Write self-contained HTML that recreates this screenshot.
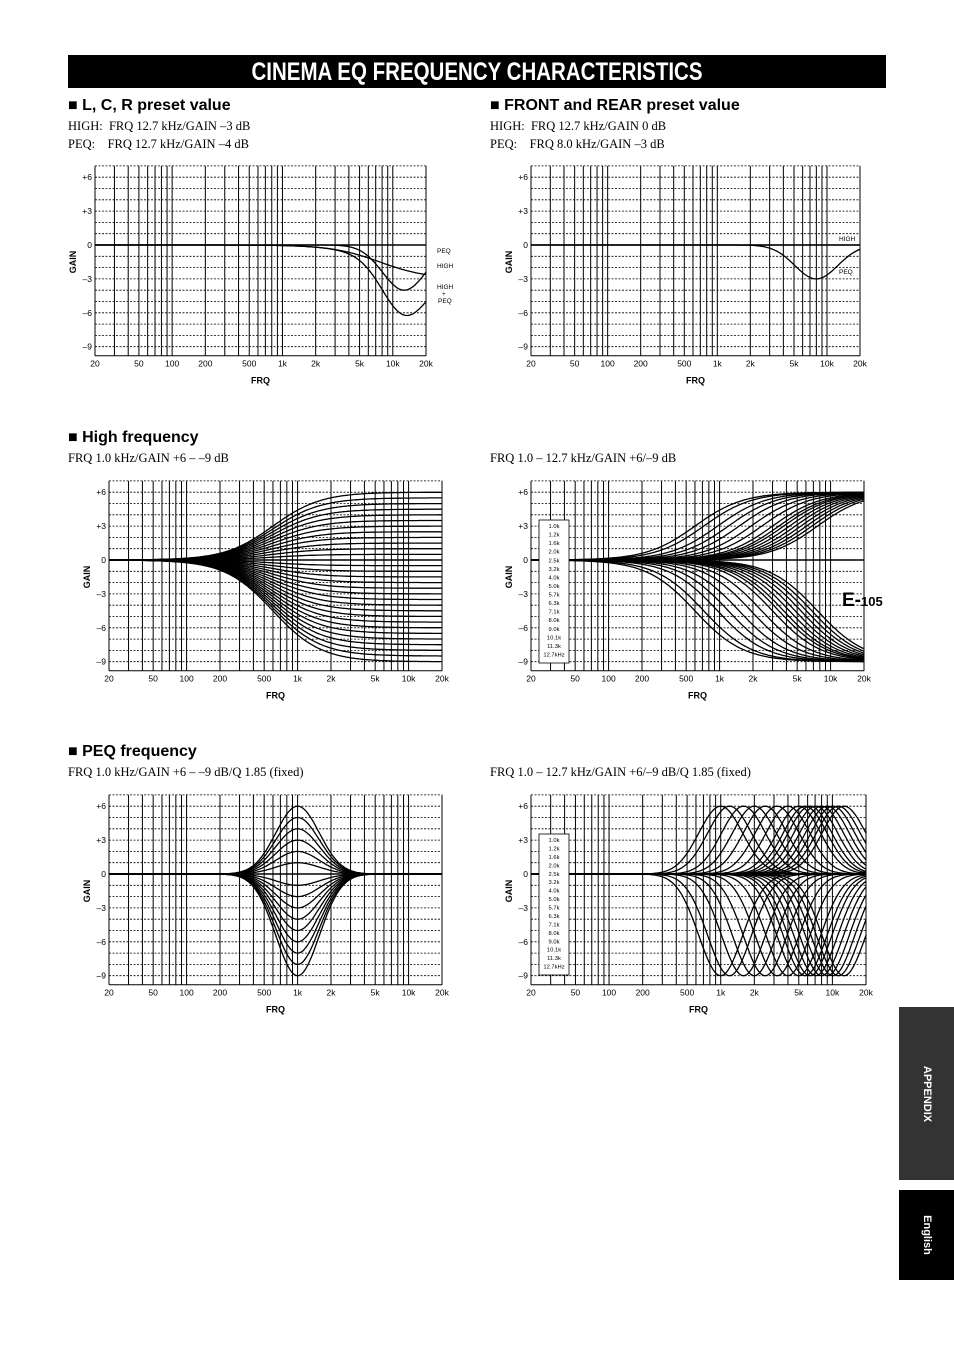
<!DOCTYPE html>
<html><head><meta charset="utf-8">
<style>
body{margin:0;background:#fff;}
#page{position:relative;width:954px;height:1351px;background:#fff;overflow:hidden;font-family:"Liberation Sans",sans-serif;}
.title{position:absolute;left:68px;top:55px;width:818px;height:33px;background:#000;color:#fff;font-weight:bold;font-size:25px;text-align:center;line-height:34px;transform-origin:center;letter-spacing:0px;}
.title span{display:inline-block;transform:scaleX(0.82);}
.h{position:absolute;font-weight:bold;font-size:16px;}
.s{position:absolute;font-family:"Liberation Serif",serif;font-size:12.5px;white-space:pre;}
.tab{position:absolute;left:899px;width:55px;background:#333;}
.tab span{position:absolute;left:50%;top:50%;color:#fff;font-weight:bold;font-size:11px;transform:translate(-50%,-50%) rotate(90deg);white-space:nowrap;}
svg{position:absolute;left:0;top:0;}
</style></head><body>
<div id="page">
<div class="title"><span>CINEMA EQ FREQUENCY CHARACTERISTICS</span></div>
<div class="h" style="left:68px;top:97px">■ L, C, R preset value</div>
<div class="s" style="left:68px;top:119px">HIGH:  FRQ 12.7 kHz/GAIN –3 dB</div>
<div class="s" style="left:68px;top:137px">PEQ:    FRQ 12.7 kHz/GAIN –4 dB</div>
<div class="h" style="left:490px;top:97px">■ FRONT and REAR preset value</div>
<div class="s" style="left:490px;top:119px">HIGH:  FRQ 12.7 kHz/GAIN 0 dB</div>
<div class="s" style="left:490px;top:137px">PEQ:    FRQ 8.0 kHz/GAIN –3 dB</div>
<div class="h" style="left:68px;top:429px">■ High frequency</div>
<div class="s" style="left:68px;top:451px">FRQ 1.0 kHz/GAIN +6 – –9 dB</div>
<div class="s" style="left:490px;top:451px">FRQ 1.0 – 12.7 kHz/GAIN +6/–9 dB</div>
<div class="h" style="left:68px;top:743px">■ PEQ frequency</div>
<div class="s" style="left:68px;top:765px">FRQ 1.0 kHz/GAIN +6 – –9 dB/Q 1.85 (fixed)</div>
<div class="s" style="left:490px;top:765px">FRQ 1.0 – 12.7 kHz/GAIN +6/–9 dB/Q 1.85 (fixed)</div>
<div class="tab" style="top:1007px;height:173px"><span>APPENDIX</span></div>
<div class="tab" style="top:1190px;height:90px;background:#000"><span>English</span></div>
<div style="position:absolute;left:842px;top:590px;font-weight:bold;font-size:19px">E-<span style="font-size:13px">105</span></div>
<svg id="svg" width="954" height="1351"></svg>
</div>
<script>
const freqList=[1000,1200,1600,2000,2500,3200,4000,5000,5700,6300,7100,8000,9000,10100,11300,12700];
const freqLabels=["1.0k","1.2k","1.6k","2.0k","2.5k","3.2k","4.0k","5.0k","5.7k","6.3k","7.1k","8.0k","9.0k","10.1k","11.3k","12.7kHz"];
const highGains=[6,5.5,5,4.5,4,3.5,3,2.5,2,1.5,1,0.5,-0.5,-1,-1.5,-2,-2.5,-3,-3.5,-4,-4.5,-5,-5.5,-6,-6.5,-7,-7.5,-8,-8.5,-9];
const peqGains=[6,5,4,3,2,1,-1,-2,-3,-4,-5,-6,-7,-8,-9];
const extremeGains=[6,-9];
const yTicks=[6,3,0,-3,-6,-9];
const yTickLabels=["+6","+3","0","–3","–6","–9"];
const xTicks=[20,50,100,200,500,1000,2000,5000,10000,20000];
const xTickLabels=["20","50","100","200","500","1k","2k","5k","10k","20k"];
const lcrHigh={fc:12700,g:-3}, lcrPeq={fc:12700,g:-4};
const frHigh={fc:12700,g:0}, frPeq={fc:8000,g:-3};

const NS="http://www.w3.org/2000/svg";
const svg=document.getElementById('svg');
function mk(t,a,p){const e=document.createElementNS(NS,t);for(const k in a)e.setAttribute(k,a[k]);(p||svg).appendChild(e);return e;}
function shelf(f,fc,g){return g/(1+Math.pow(fc*0.6/f,2));}
function bell(f,fc,g){const o=Math.log2(f/fc);return g*Math.exp(-o*o/(2*0.65*0.65));}
function chart(name,L,R,y0){
  const g=mk('g',{});
  
  
  const X=f=>L+(R-L)*Math.log10(f/20)/3;
  const Y=d=>y0-d*11.3;
  for(let d=7;d>=-9;d--){const l=mk('line',{x1:L,x2:R,y1:Y(d),y2:Y(d),stroke:'#000','stroke-width':d==0?1.6:0.8,'stroke-dasharray':d==0?'':'2,1.5'},g);
    }
  const vs=[];for(let dec=10;dec<=10000;dec*=10)for(let m=1;m<10;m++){const f=dec*m;if(f>=20&&f<=20000)vs.push(f);}
  vs.push(20000);
  vs.forEach(f=>{const l=mk('line',{x1:X(f),x2:X(f),y1:Y(7),y2:Y(-9.8),stroke:'#000','stroke-width':1},g);
    });
  mk('line',{x1:L,x2:R,y1:Y(-9.8),y2:Y(-9.8),stroke:'#000','stroke-width':1},g);
  yTicks.forEach((d,i)=>{const t=mk('text',{x:L-3,y:Y(d)+3,'font-size':8.5,'text-anchor':'end','font-family':'Liberation Sans'},g);t.textContent=yTickLabels[i];
    });
  xTicks.forEach((f,i)=>{const t=mk('text',{x:X(f),y:Y(-9.8)+11,'font-size':8.5,'text-anchor':'middle','font-family':'Liberation Sans'},g);t.textContent=xTickLabels[i];
    });
  const gy=mk('text',{x:0,y:0,'font-size':9,'font-weight':'bold','text-anchor':'middle','font-family':'Liberation Sans',transform:`translate(${L-19},${Y(-1.5)}) rotate(-90)`},g);gy.textContent='GAIN';
  
  const fx=mk('text',{x:(L+R)/2,y:Y(-9.8)+28,'font-size':9,'font-weight':'bold','text-anchor':'middle','font-family':'Liberation Sans'},g);fx.textContent='FRQ';
  
  return {g,X,Y,L,R};
}
function curve(c,fn,name){
  let d='';for(let i=0;i<=240;i++){const f=20*Math.pow(1000,i/240);d+=(i?'L':'M')+c.X(f).toFixed(1)+','+c.Y(fn(f)).toFixed(1);}
  const p=mk('path',{d:d,fill:'none',stroke:'#000','stroke-width':1.3},c.g);
  
}
function label(c,x,y,txt,name){const t=mk('text',{x:x,y:y,'font-size':6.5,'font-family':'Liberation Sans'},c.g);t.textContent=txt;
  }
function legend(c,x,y,h){
  const r=mk('rect',{x:x,y:y,width:30,height:h,fill:'#fff',stroke:'#000','stroke-width':0.8},c.g);
  
  freqLabels.forEach((s,i)=>{const t=mk('text',{x:x+15,y:y+8+i*(h-6)/16,'font-size':5.8,'text-anchor':'middle','font-family':'Liberation Sans'},c.g);t.textContent=s;
    });
}
// Chart 1
let c=chart('lcr-chart',95,426,245);
curve(c,f=>bell(f,lcrPeq.fc,lcrPeq.g),'peq-curve');
curve(c,f=>shelf(f,lcrHigh.fc,lcrHigh.g),'high-curve');
curve(c,f=>shelf(f,lcrHigh.fc,lcrHigh.g)+bell(f,lcrPeq.fc,lcrPeq.g),'high-plus-peq-curve');
label(c,437,253,'PEQ','peq-label');label(c,437,268,'HIGH','high-label');label(c,437,289,'HIGH','high-peq-label');label(c,442,296,'+','high-peq-label');label(c,438,303,'PEQ','high-peq-label');
// Chart 2
c=chart('front-rear-chart',531,860,245);
curve(c,f=>shelf(f,frHigh.fc,frHigh.g),'high-curve');
curve(c,f=>shelf(f,frHigh.fc,frHigh.g)+bell(f,frPeq.fc,frPeq.g),'peq-curve');
label(c,839,241,'HIGH','high-label');label(c,839,274,'PEQ','peq-label');
// Chart 3
c=chart('high-1k-chart',109,442,560);
highGains.forEach(gn=>curve(c,f=>shelf(f,1000,gn),'high-shelf-curve'));
// Chart 4
c=chart('high-sweep-chart',531,864,560);
freqList.forEach(fc=>extremeGains.forEach(gn=>curve(c,f=>shelf(f,fc,gn),'high-shelf-curve')));
legend(c,539,520,143);
// Chart 5
c=chart('peq-1k-chart',109,442,874);
peqGains.forEach(gn=>curve(c,f=>bell(f,1000,gn),'peq-curve'));
// Chart 6
c=chart('peq-sweep-chart',531,866,874);
freqList.forEach(fc=>extremeGains.forEach(gn=>curve(c,f=>bell(f,fc,gn),'peq-curve')));
legend(c,539,834,141);
</script>
</body></html>
